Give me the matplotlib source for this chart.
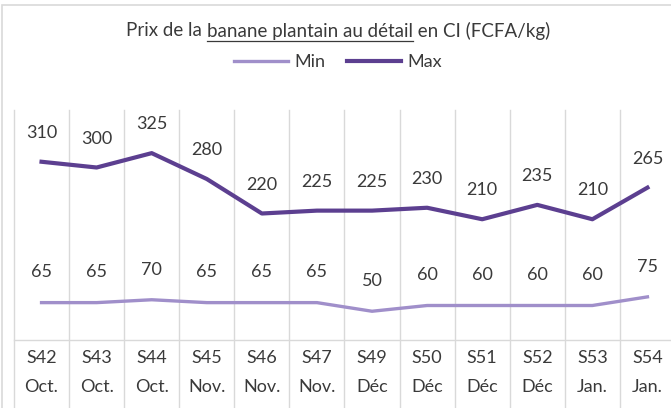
import numpy as np
import matplotlib.pyplot as plt
from matplotlib.patches import Rectangle

weeks = ["S42", "S43", "S44", "S45", "S46", "S47", "S49", "S50", "S51", "S52", "S53", "S54"]
months = ["Oct.", "Oct.", "Oct.", "Nov.", "Nov.", "Nov.", "Déc", "Déc", "Déc", "Déc", "Jan.", "Jan."]
prix_min = [65, 65, 70, 65, 65, 65, 50, 60, 60, 60, 60, 75]
prix_max = [310, 300, 325, 280, 220, 225, 225, 230, 210, 235, 210, 265]

plt.rcParams['font.family'] = ['Lato', 'DejaVu Sans']
txt_color = '#3a3a3a'
grid_color = '#d9d9d9'
c_min = '#a08fca'
c_max = '#5c3f90'

W, H = 671, 408
fig = plt.figure(figsize=(W / 100, H / 100), dpi=100, facecolor='white')
# plot area runs past the right edge of the figure
ax = fig.add_axes([14 / W, (H - 340) / H, (675 - 14) / W, (340 - 110) / H])
ax.set_xlim(-0.5, len(weeks) - 0.5)
ax.set_ylim(0, 400)
for s in ax.spines.values():
    s.set_visible(False)
ax.set_yticks([])
ax.set_xticks([])

x = np.arange(len(weeks))

# category separators, running down through the label area
below = (340 - H) / (340 - 110)
trans = ax.get_xaxis_transform()
for b in np.arange(-0.5, len(weeks), 1.0):
    ax.plot([b, b], [below, 1], color=grid_color, lw=1, transform=trans, clip_on=False, zorder=0)
ax.plot([-0.5, len(weeks) - 0.5], [0, 0], color=grid_color, lw=1, transform=trans, clip_on=False, zorder=0)

ax.plot(x, prix_min, color=c_min, lw=2.4, label='Min', solid_joinstyle='round')
ax.plot(x, prix_max, color=c_max, lw=3, label='Max', solid_joinstyle='round')

for xi, v in zip(x, prix_max):
    ax.annotate(str(v), (xi, v), xytext=(0, 15), textcoords='offset points',
                ha='center', va='bottom', fontsize=13, color=txt_color)
for xi, v in zip(x, prix_min):
    ax.annotate(str(v), (xi, v), xytext=(0, 16), textcoords='offset points',
                ha='center', va='bottom', fontsize=13, color=txt_color)

for xi, w, m in zip(x, weeks, months):
    ax.text(xi, (340 - 358) / 230, w, transform=trans, ha='center', va='center',
            fontsize=13, color=txt_color)
    ax.text(xi, (340 - 387) / 230, m, transform=trans, ha='center', va='center',
            fontsize=13, color=txt_color)

ax.legend(loc='center', bbox_to_anchor=(338 / W, 1 - 62 / H), bbox_transform=fig.transFigure,
          ncol=2, frameon=False, fontsize=13, handlelength=3.0, handletextpad=0.33,
          columnspacing=1.2, labelcolor=txt_color)

# title with the underlined middle part
parts = ["Prix de la ", "banane plantain au détail", " en CI (FCFA/kg)"]
ty = 1 - 31 / H
texts = [fig.text(0, ty, p, fontsize=13.5, color=txt_color, ha='left', va='center') for p in parts]
fig.canvas.draw()
r = fig.canvas.get_renderer()
widths = [t.get_window_extent(r).width for t in texts]
x0 = 338 - sum(widths) / 2
pos = x0
for t, w in zip(texts, widths):
    t.set_x(pos / W)
    pos += w
ul_x0 = (x0 + widths[0]) / W
ul_x1 = (x0 + widths[0] + widths[1]) / W
fig.add_artist(plt.Line2D([ul_x0, ul_x1], [1 - 41 / H] * 2, color=txt_color, lw=0.9,
                          transform=fig.transFigure))

# chart border
fig.add_artist(Rectangle((2 / W, -0.01), 1, 1 - 5 / H + 0.01, transform=fig.transFigure,
                         fill=False, edgecolor=grid_color, lw=1.2))

fig.savefig('out.png', dpi=100)
